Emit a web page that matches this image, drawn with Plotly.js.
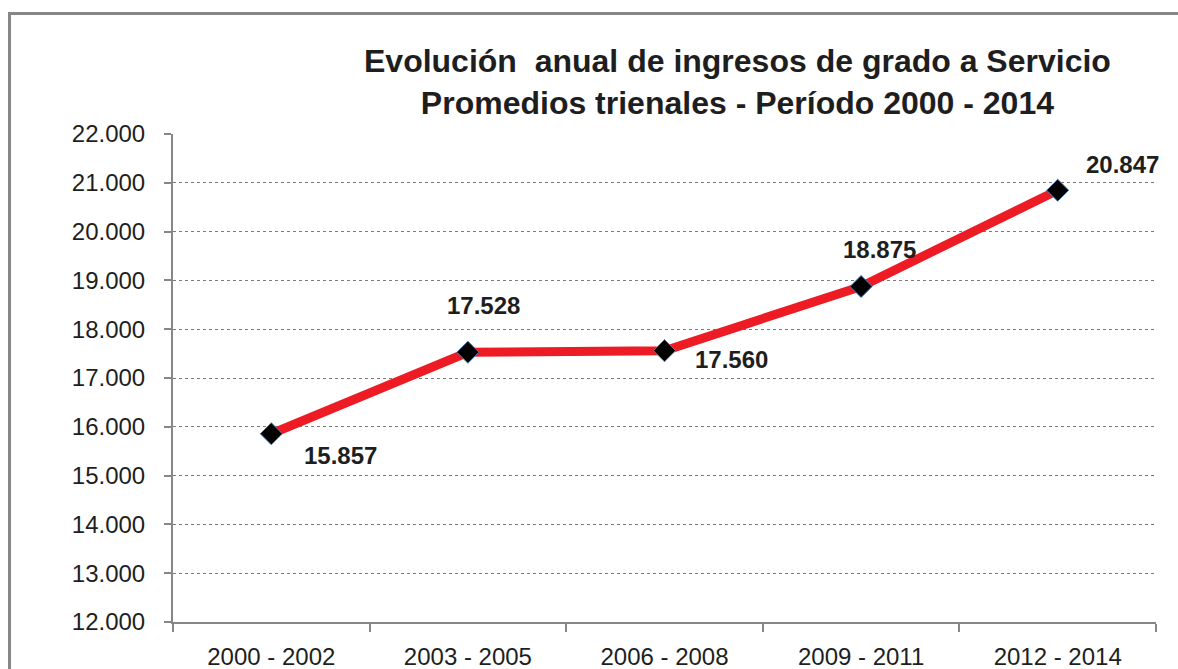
<!DOCTYPE html>
<html>
<head>
<meta charset="utf-8">
<script src="https://cdn.plot.ly/plotly-3.0.1.min.js"></script>
<style>
    body { margin: 0; background: #fff; }
    #wrap { position: relative; width: 1178px; height: 669px; overflow: hidden; }
    #grafico { width: 1178px; height: 669px; }
    /* marco gris del gráfico original */
    #marco { position: absolute; left: 8px; top: 12px; width: 1300px; height: 800px;
             border-left: 3px solid #878787; border-top: 3px solid #878787; pointer-events: none; }
</style>
</head>
<body>
<div id="wrap">
    <div id="grafico"></div>
    <div id="marco"></div>
</div>
<script>
    // Períodos trienales
    var periodos = ['2000 - 2002', '2003 - 2005', '2006 - 2008', '2009 - 2011', '2012 - 2014'];
    // Promedio anual de ingresos de grado a Servicio
    var ingresos = [15857, 17528, 17560, 18875, 20847];

    // Desplazamiento de cada etiqueta respecto de su punto (px)
    var desplX = [69, 16, 67, 18, 65];
    var desplY = [-22, 47, -9, 37, 26];

    var fuente = '"Liberation Sans", Arial, sans-serif';
    var colorTexto = '#1e1e1e';

    // 15857 -> "15.857"
    function formatear(v) {
        return String(v).replace(/\B(?=(\d{3})+(?!\d))/g, '.');
    }

    var traza = {
        x: periodos,
        y: ingresos,
        type: 'scatter',
        mode: 'lines+markers',
        line: { color: '#ed1c24', width: 9 },
        marker: { symbol: 'diamond', size: 17, color: '#000000',
                  line: { color: '#4f81bd', width: 1 } },
        hoverinfo: 'skip',
        showlegend: false
    };

    var etiquetas = periodos.map(function(p, i) {
        return {
            x: p, y: ingresos[i], xref: 'x', yref: 'y',
            text: '<b>' + formatear(ingresos[i]) + '</b>',
            showarrow: false,
            xshift: desplX[i], yshift: desplY[i],
            font: { family: fuente, size: 24, color: colorTexto }
        };
    });

    var layout = {
        width: 1178, height: 669,
        margin: { l: 173, r: 22, t: 134, b: 47 },
        paper_bgcolor: '#ffffff',
        plot_bgcolor: '#ffffff',
        separators: ',.',
        title: {
            text: '<b>Evolución\u00a0 anual de ingresos de grado a Servicio<br>Promedios trienales - Período 2000 - 2014</b>',
            font: { family: fuente, size: 32, color: colorTexto },
            xref: 'container', x: 0.626, xanchor: 'center',
            yref: 'container', y: 0.892, yanchor: 'middle'
        },
        xaxis: {
            type: 'category',
            range: [-0.5, 4.5],
            tickson: 'boundaries',
            ticks: 'outside', ticklen: 8, tickcolor: '#878787', tickwidth: 2,
            showline: true, linecolor: '#878787', linewidth: 2,
            showgrid: false, zeroline: false,
            ticklabelstandoff: 12,
            tickfont: { family: fuente, size: 24, color: colorTexto }
        },
        yaxis: {
            range: [12000, 22000],
            dtick: 1000, tick0: 12000,
            tickformat: ',.0f',
            ticks: 'outside', ticklen: 7, tickcolor: '#878787', tickwidth: 2,
            showline: true, linecolor: '#878787', linewidth: 2,
            showgrid: true, gridcolor: '#7a7a7a', gridwidth: 1, griddash: 'dot',
            zeroline: false,
            ticklabelstandoff: 14,
            tickfont: { family: fuente, size: 24, color: colorTexto }
        },
        annotations: etiquetas
    };

    Plotly.newPlot('grafico', [traza], layout, { staticPlot: true, displayModeBar: false });
</script>
</body>
</html>
